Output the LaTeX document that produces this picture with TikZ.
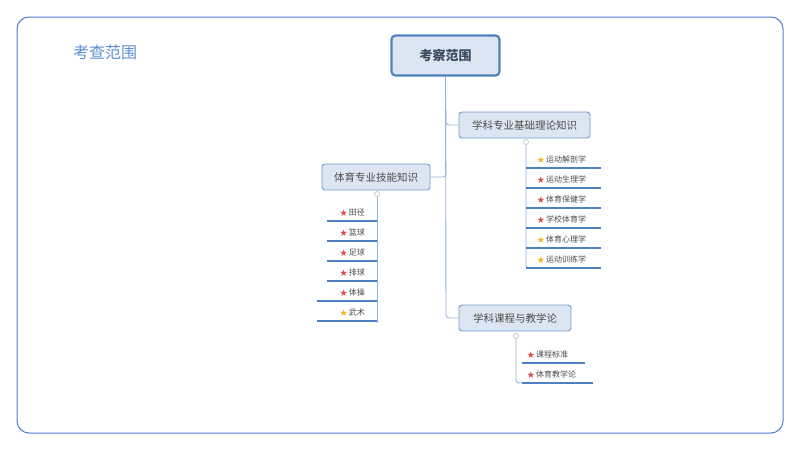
\documentclass[tikz,border=0pt]{standalone}
\usepackage{fontspec}
\setmainfont{Noto Sans CJK SC}
\usepackage{amssymb}
\definecolor{fr}{HTML}{4A7FD4}
\definecolor{ttl}{HTML}{5B8ED6}
\definecolor{bd}{HTML}{4F81BD}
\definecolor{fl}{HTML}{DCE6F2}
\definecolor{cn}{HTML}{95B3D7}
\definecolor{ul}{HTML}{4F7FC4}
\definecolor{rs}{HTML}{E04848}
\definecolor{gs}{HTML}{F2B319}
\definecolor{rt}{HTML}{3A4A60}
\begin{document}
\begin{tikzpicture}[x=1pt,y=-1pt,
  frame/.style={draw=fr, line width=1pt, rounded corners=12pt},
  root/.style={draw=bd, line width=2.2pt, fill=fl, rounded corners=4pt, minimum width=108pt, minimum height=40pt, font=\fontsize{13}{13}\selectfont\bfseries, text=rt},
  branch/.style={draw=bd!80, line width=0.9pt, fill=fl, rounded corners=3pt, minimum height=26pt, inner xsep=4pt, font=\fontsize{10.5}{11}\selectfont, text=black!70},
  leaf/.style={font=\fontsize{8}{8}\selectfont, text=black!70, inner sep=1pt},
  conn/.style={draw=cn, line width=0.9pt, rounded corners=3pt},
  uline/.style={draw=ul, line width=1.3pt},
  knob/.style={circle, draw=gray!60, fill=white, line width=0.5pt, inner sep=0pt, minimum size=5pt}]
\useasboundingbox (0,0) rectangle (800,450);
\draw[frame] (17,17) rectangle (783,433);
\node[text=ttl, font=\fontsize{16}{16}\selectfont] (title) at (105,52) {考查范围};
\node[root] (root) at (445.5,55.5) {考察范围};
\node[branch, minimum width=131pt] (b1) at (524.5,125) {学科专业基础理论知识};
\node[branch, minimum width=108pt] (b2) at (376,177) {体育专业技能知识};
\node[branch, minimum width=112pt] (b3) at (515,318) {学科课程与教学论};
\draw[conn] (root.south) -- (446,318) -- (b3.west);
\draw[conn] (446,110) -- (446,125) -- (b1.west);
\draw[conn] (446,162) -- (446,177) -- (b2.east);
% branch1 leaves
\node[knob] (k1) at (526,142) {};
\draw[conn] (k1.south) -- (526,268) -- (532,268);
\foreach \t/\c [count=\i] in {运动解剖学/gs,运动生理学/rs,体育保健学/rs,学校体育学/rs,体育心理学/gs,运动训练学/gs}{
  \pgfmathsetmacro\yy{140+20*\i}
  \node[leaf, anchor=west] (l1\i) at (536,\yy) {\textcolor{\c}{$\bigstar$}\,\t};
  \draw[uline] (526,\yy+8) -- (601,\yy+8);
}
% branch2 leaves
\node[knob] (k2) at (377,194) {};
\draw[conn] (k2.south) -- (377,323);
\foreach \t/\c/\xs [count=\i] in {田径/rs/327,篮球/rs/327,足球/rs/327,排球/rs/327,体操/rs/317,武术/gs/317}{
  \pgfmathsetmacro\yy{193+20*\i}
  \node[leaf, anchor=east] (l2\i) at (366,\yy) {\textcolor{\c}{$\bigstar$}\,\t};
  \draw[uline] (\xs,\yy+8) -- (377,\yy+8);
}
% branch3 leaves
\node[knob] (k3) at (516,336) {};
\draw[conn] (k3.south) -- (516,383) -- (522,383);
\node[leaf, anchor=west] (l31) at (526,355) {\textcolor{rs}{$\bigstar$}\,课程标准};
\draw[uline] (522,363) -- (585,363);
\node[leaf, anchor=west] (l32) at (526,375) {\textcolor{rs}{$\bigstar$}\,体育教学论};
\draw[uline] (522,383) -- (593,383);
\end{tikzpicture}
\end{document}
